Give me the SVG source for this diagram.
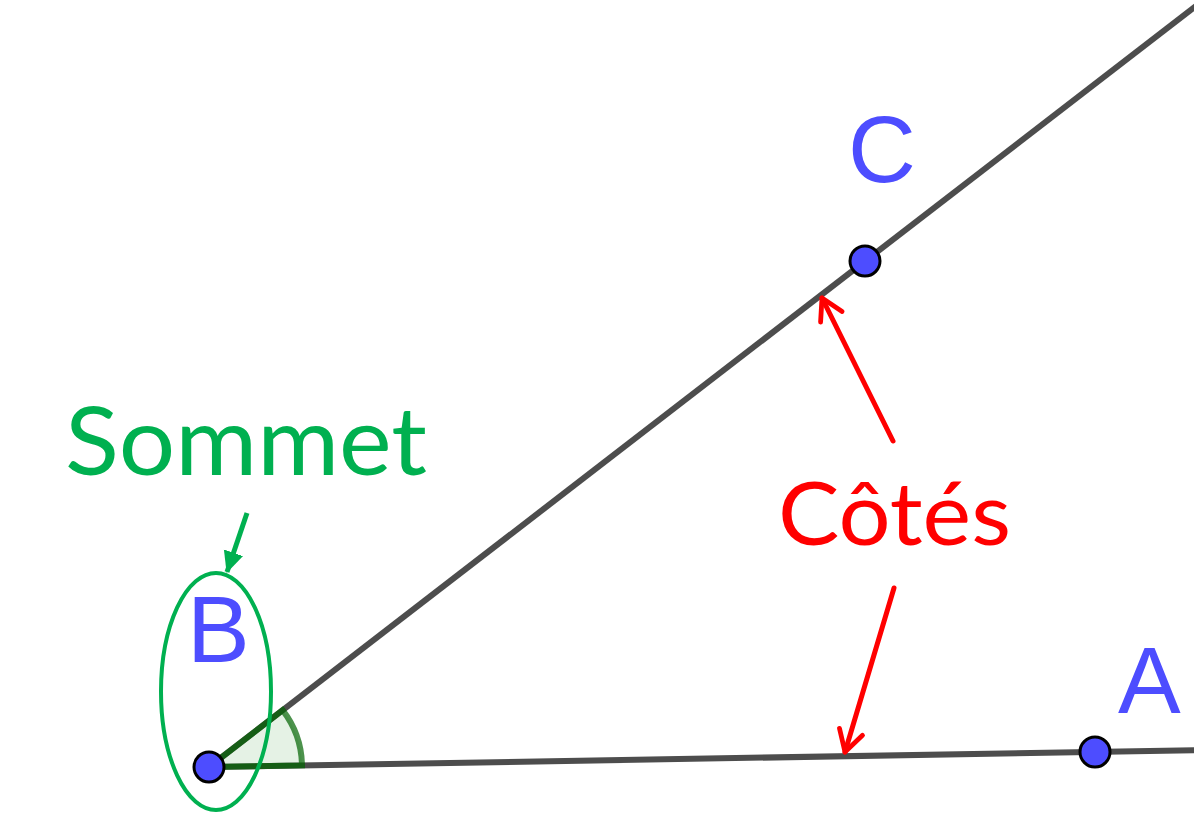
<svg xmlns="http://www.w3.org/2000/svg" width="1194" height="833" viewBox="0 0 1194 833">
<defs>
<style>
.ray{stroke:#4d4d4d;stroke-width:6;stroke-linecap:butt;fill:none}
.pt{fill:#4d4dff;stroke:#000;stroke-width:3}
.lbl{font-family:"Liberation Sans",Arial,sans-serif;font-size:94px;fill:#4d4dff}
.red{stroke:#ff0000;stroke-width:5;fill:none;stroke-linecap:round}
.grn{stroke:#00b050;stroke-width:5;fill:none}
</style>
<marker id="openRed" viewBox="0 0 20 20" refX="18" refY="10" markerWidth="6" markerHeight="6" orient="auto" markerUnits="strokeWidth">
<path d="M4,2 L18,10 L4,18" fill="none" stroke="#ff0000" stroke-width="3.2" stroke-linecap="round" stroke-linejoin="round"/>
</marker>
<marker id="fillGrn" viewBox="0 0 20 20" refX="18" refY="10" markerWidth="4.5" markerHeight="4.5" orient="auto" markerUnits="strokeWidth">
<path d="M0,1 L19,10 L0,19 Z" fill="#00b050"/>
</marker>
</defs>
<rect width="1194" height="833" fill="#ffffff"/>
<g id="rays">
<line class="ray" x1="209" y1="767" x2="1205" y2="-1"/>
<line class="ray" x1="209" y1="767" x2="1200" y2="750.2"/>
</g>
<g id="angle">
<path d="M209,767 L302,765.4 A93,93 0 0 0 282.6,710.2 Z" fill="#007f00" fill-opacity="0.1" stroke="#006400" stroke-opacity="0.7" stroke-width="6"/>
</g>
<g id="connectors">
<line class="red" x1="893" y1="441" x2="822" y2="298" marker-end="url(#openRed)"/>
<line class="red" x1="894" y1="588" x2="845" y2="752" marker-end="url(#openRed)"/>
<line class="grn" x1="247" y1="513" x2="227" y2="572" marker-end="url(#fillGrn)"/>
</g>
<g id="sommet-ellipse">
<ellipse cx="216" cy="691.5" rx="55" ry="118.5" fill="none" stroke="#00b050" stroke-width="4"/>
</g>
<g id="point-B">
<circle class="pt" cx="209" cy="767" r="15"/>
<text class="lbl" x="187" y="662">B</text>
</g>
<g id="point-C">
<circle class="pt" cx="865" cy="261" r="15"/>
<text class="lbl" x="848" y="182">C</text>
</g>
<g id="point-A">
<circle class="pt" cx="1095" cy="752" r="15"/>
<text class="lbl" x="1118" y="713">A</text>
</g>
<g id="label-sommet">
<text x="65" y="475" font-family="Lato,'Open Sans',sans-serif" font-size="95" fill="#00b050" textLength="362" lengthAdjust="spacingAndGlyphs">Sommet</text>
</g>
<g id="label-cotes">
<text x="778" y="545" font-family="Lato,'Open Sans',sans-serif" font-size="88" fill="#ff0000" textLength="233" lengthAdjust="spacingAndGlyphs">Côtés</text>
</g>
</svg>
